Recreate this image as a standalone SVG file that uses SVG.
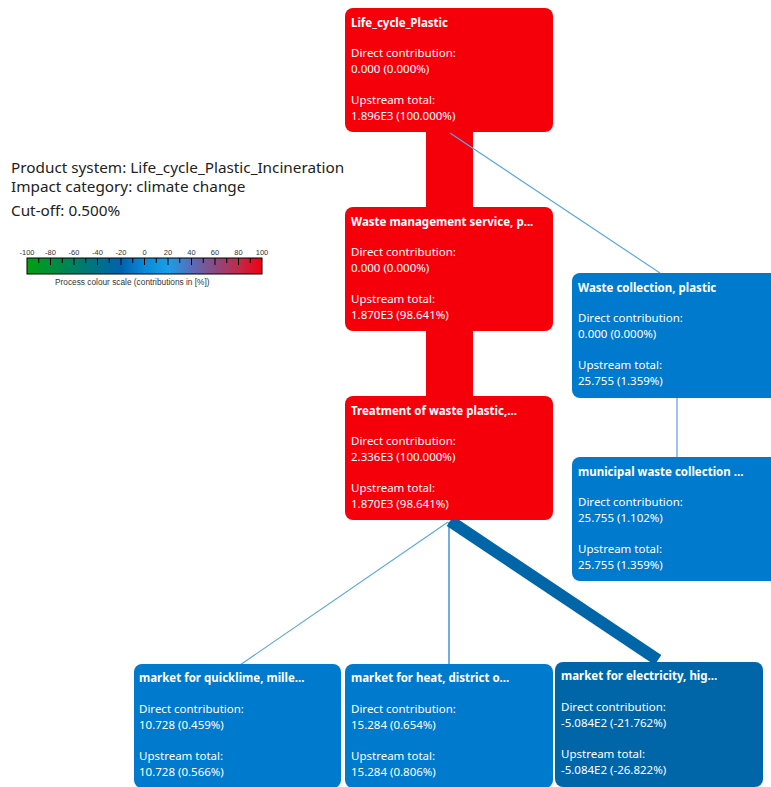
<svg xmlns="http://www.w3.org/2000/svg" width="771" height="787" viewBox="0 0 771 787">
<defs>
<linearGradient id="scale" x1="0" y1="0" x2="1" y2="0">
<stop offset="0" stop-color="#00a010"/>
<stop offset="0.2" stop-color="#008060"/>
<stop offset="0.4" stop-color="#0062b0"/>
<stop offset="0.5" stop-color="#0a8ad8"/>
<stop offset="0.6" stop-color="#1a9ee8"/>
<stop offset="0.7" stop-color="#5a6cb8"/>
<stop offset="0.8" stop-color="#8c4a80"/>
<stop offset="0.9" stop-color="#c02a48"/>
<stop offset="1" stop-color="#f20010"/>
</linearGradient>
</defs>
<style>
.hdr{font-family:"Noto Sans","Open Sans",sans-serif;font-size:15.3px;fill:#222}
.t{font-family:"Noto Sans","Open Sans",sans-serif;font-size:11.5px;fill:#fff}
.b{font-weight:bold}
.lg{font-family:"Liberation Sans",sans-serif;font-size:7.5px;fill:#333}
.cap{font-family:"Liberation Sans",sans-serif;font-size:8.3px;fill:#333}
.red{fill:#f5000a}
.blue{fill:#007acc}
.dark{fill:#0066a8}
</style>
<rect width="771" height="787" fill="#fff"/>
<g id="header">
<text class="hdr" x="11" y="173">Product system: Life_cycle_Plastic_Incineration</text>
<text class="hdr" x="11" y="192">Impact category: climate change</text>
<text class="hdr" x="11" y="216">Cut-off: 0.500%</text>
</g>
<g id="legend">
<rect x="27" y="258" width="235" height="16" fill="url(#scale)" stroke="#000" stroke-width="1"/>
<g stroke="#000" stroke-width="1">
<path d="M38.75 258v5M50.5 258v7M62.25 258v5M74 258v7M85.75 258v5M97.5 258v7M109.25 258v5M121 258v7M132.75 258v5M144.5 258v7M156.25 258v5M168 258v7M179.75 258v5M191.5 258v7M203.25 258v5M215 258v7M226.75 258v5M238.5 258v7M250.25 258v5"/>
</g>
<g class="lg" text-anchor="middle">
<text x="27" y="255">-100</text><text x="50.5" y="255">-80</text><text x="74" y="255">-60</text><text x="97.5" y="255">-40</text><text x="121" y="255">-20</text><text x="144.5" y="255">0</text><text x="168" y="255">20</text><text x="191.5" y="255">40</text><text x="215" y="255">60</text><text x="238.5" y="255">80</text><text x="262" y="255">100</text>
</g>
<text class="cap" x="55" y="285">Process colour scale (contributions in [%])</text>
</g>
<g id="connectors">
<rect x="426" y="130" width="47" height="80" fill="#f5000a"/>
<rect x="426" y="329" width="47" height="70" fill="#f5000a"/>
<line x1="450" y1="133" x2="660" y2="273" stroke="#5aa8e0" stroke-width="1.2"/>
<line x1="677" y1="398" x2="677" y2="458" stroke="#5aa0d8" stroke-width="1.2"/>
<line x1="448" y1="522" x2="240" y2="665" stroke="#5aa8e0" stroke-width="1.2"/>
<line x1="449" y1="522" x2="449" y2="665" stroke="#1a78c0" stroke-width="1.2"/>
<line x1="450" y1="521" x2="658" y2="660" stroke="#0066a8" stroke-width="12"/>
</g>
<g id="n-lifecycle">
<rect class="red" x="345" y="8" width="208" height="124" rx="8"/>
<text class="t b" x="351" y="27">Life_cycle_Plastic</text>
<text class="t" x="351" y="57">Direct contribution:</text>
<text class="t" x="351" y="73">0.000 (0.000%)</text>
<text class="t" x="351" y="104">Upstream total:</text>
<text class="t" x="351" y="120">1.896E3 (100.000%)</text>
</g>
<g id="n-waste-mgmt">
<rect class="red" x="345" y="207" width="208" height="124" rx="8"/>
<text class="t b" x="351" y="226">Waste management service, p...</text>
<text class="t" x="351" y="256">Direct contribution:</text>
<text class="t" x="351" y="272">0.000 (0.000%)</text>
<text class="t" x="351" y="303">Upstream total:</text>
<text class="t" x="351" y="319">1.870E3 (98.641%)</text>
</g>
<g id="n-treatment">
<rect class="red" x="345" y="396" width="208" height="124" rx="8"/>
<text class="t b" x="351" y="415">Treatment of waste plastic,...</text>
<text class="t" x="351" y="445">Direct contribution:</text>
<text class="t" x="351" y="461">2.336E3 (100.000%)</text>
<text class="t" x="351" y="492">Upstream total:</text>
<text class="t" x="351" y="508">1.870E3 (98.641%)</text>
</g>
<g id="n-waste-collection">
<rect class="blue" x="572" y="273" width="208" height="125" rx="8"/>
<text class="t b" x="578" y="292">Waste collection, plastic</text>
<text class="t" x="578" y="322">Direct contribution:</text>
<text class="t" x="578" y="338">0.000 (0.000%)</text>
<text class="t" x="578" y="369">Upstream total:</text>
<text class="t" x="578" y="385">25.755 (1.359%)</text>
</g>
<g id="n-municipal">
<rect class="blue" x="572" y="457" width="208" height="124" rx="8"/>
<text class="t b" x="578" y="476">municipal waste collection ...</text>
<text class="t" x="578" y="506">Direct contribution:</text>
<text class="t" x="578" y="522">25.755 (1.102%)</text>
<text class="t" x="578" y="553">Upstream total:</text>
<text class="t" x="578" y="569">25.755 (1.359%)</text>
</g>
<g id="n-quicklime">
<rect class="blue" x="134" y="664" width="207" height="124" rx="8"/>
<text class="t b" x="139" y="682">market for quicklime, mille...</text>
<text class="t" x="139" y="713">Direct contribution:</text>
<text class="t" x="139" y="729">10.728 (0.459%)</text>
<text class="t" x="139" y="760">Upstream total:</text>
<text class="t" x="139" y="776">10.728 (0.566%)</text>
</g>
<g id="n-heat">
<rect class="blue" x="345" y="664" width="208" height="124" rx="8"/>
<text class="t b" x="351" y="682">market for heat, district o...</text>
<text class="t" x="351" y="713">Direct contribution:</text>
<text class="t" x="351" y="729">15.284 (0.654%)</text>
<text class="t" x="351" y="760">Upstream total:</text>
<text class="t" x="351" y="776">15.284 (0.806%)</text>
</g>
<g id="n-electricity">
<rect class="dark" x="555" y="662" width="208" height="125" rx="8"/>
<text class="t b" x="561" y="680">market for electricity, hig...</text>
<text class="t" x="561" y="711">Direct contribution:</text>
<text class="t" x="561" y="727">-5.084E2 (-21.762%)</text>
<text class="t" x="561" y="758">Upstream total:</text>
<text class="t" x="561" y="774">-5.084E2 (-26.822%)</text>
</g>
</svg>
